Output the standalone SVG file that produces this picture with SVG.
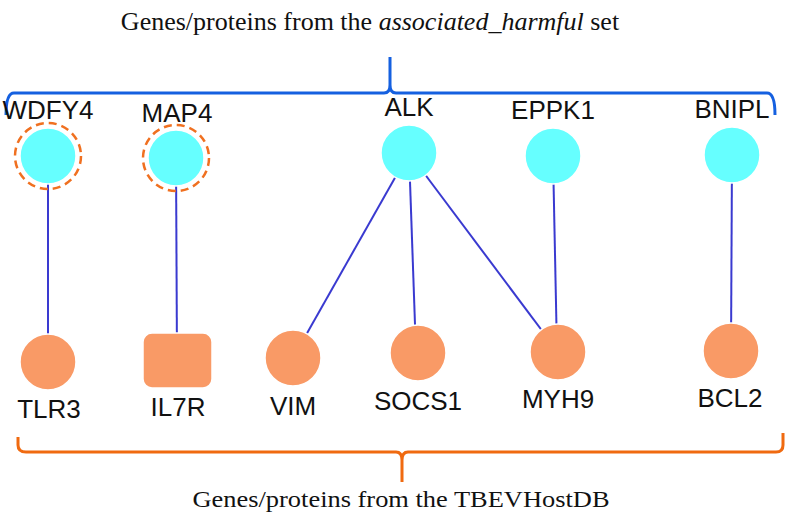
<svg xmlns="http://www.w3.org/2000/svg" width="787" height="516" viewBox="0 0 787 516">
<style>
.lab{font-family:"Liberation Sans",Arial,sans-serif;font-size:26px;fill:#111;text-anchor:middle}
.ttl{font-family:"Liberation Serif","Times New Roman",serif;fill:#111}
.top{fill:#66FFFF;stroke:#fff;stroke-width:1.5}
.bot{fill:#F99A66;stroke:#fff;stroke-width:1.5}
.ring{fill:none;stroke:#F07020;stroke-width:2.5;stroke-dasharray:8 5}
.edge{stroke:#3A3AD0;stroke-width:2;fill:none}
</style>
<rect width="787" height="516" fill="#fff"/>
<text class="ttl" x="370" y="30" font-size="26" text-anchor="middle">Genes/proteins from the <tspan font-style="italic">associated_harmful</tspan> set</text>
<path d="M6,115 Q6,93 14,93 L384,93 Q390,93 390,85 L390,57 M390,85 Q390,93 396,93 L767,93 Q775,93 775,115" fill="none" stroke="#1560E0" stroke-width="3"/>
<path d="M18,437 L18,445 Q18,452 26,452 L396,452 Q402,452 402,460 L402,482 M402,460 Q402,452 408,452 L776,452 Q783,452 783,445 L783,433" fill="none" stroke="#F06A10" stroke-width="3"/>
<text class="ttl" x="401" y="507" font-size="23" text-anchor="middle" textLength="417" lengthAdjust="spacingAndGlyphs">Genes/proteins  from the TBEVHostDB</text>
<g id="edges">
<line class="edge" x1="48" y1="156" x2="48" y2="362"/>
<line class="edge" x1="176" y1="158" x2="177" y2="360"/>
<line class="edge" x1="409" y1="153" x2="293" y2="358"/>
<line class="edge" x1="409" y1="153" x2="416" y2="353"/>
<line class="edge" x1="409" y1="153" x2="558" y2="352"/>
<line class="edge" x1="553" y1="156" x2="557" y2="352"/>
<line class="edge" x1="732" y1="155" x2="731" y2="351"/>
</g>
<g id="WDFY4"><circle class="ring" cx="48" cy="156" r="33"/><circle class="top" cx="48" cy="156" r="28"/><text class="lab" x="48" y="119">WDFY4</text></g>
<g id="MAP4"><circle class="ring" cx="176" cy="158" r="33"/><circle class="top" cx="176" cy="158" r="28"/><text class="lab" x="177" y="122">MAP4</text></g>
<g id="ALK"><circle class="top" cx="409" cy="153" r="28"/><text class="lab" x="409" y="116">ALK</text></g>
<g id="EPPK1"><circle class="top" cx="553" cy="156" r="28"/><text class="lab" x="553" y="119">EPPK1</text></g>
<g id="BNIPL"><circle class="top" cx="732" cy="155" r="28"/><text class="lab" x="732" y="118">BNIPL</text></g>
<g id="TLR3"><circle class="bot" cx="48" cy="362" r="28"/><text class="lab" x="49" y="418">TLR3</text></g>
<g id="IL7R"><rect class="bot" x="143" y="333" width="69" height="55" rx="9"/><text class="lab" x="178" y="416">IL7R</text></g>
<g id="VIM"><circle class="bot" cx="293" cy="358" r="28"/><text class="lab" x="293" y="415">VIM</text></g>
<g id="SOCS1"><circle class="bot" cx="418" cy="353" r="28"/><text class="lab" x="418" y="410">SOCS1</text></g>
<g id="MYH9"><circle class="bot" cx="558" cy="352" r="28"/><text class="lab" x="558" y="408">MYH9</text></g>
<g id="BCL2"><circle class="bot" cx="731" cy="351" r="28"/><text class="lab" x="730" y="407">BCL2</text></g>
</svg>
